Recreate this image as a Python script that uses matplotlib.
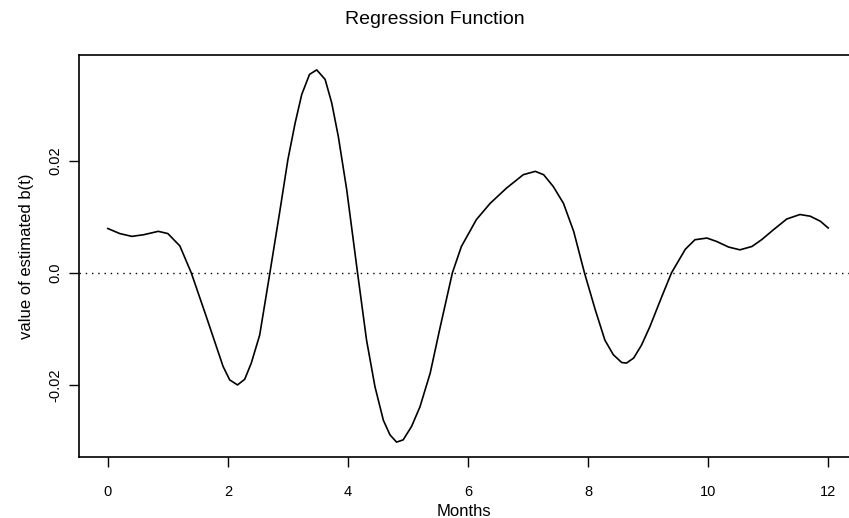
import numpy as np
import matplotlib
matplotlib.use("Agg")
import matplotlib.pyplot as plt

plt.rcParams['font.family'] = ['Liberation Sans', 'DejaVu Sans']

# estimated regression function b(t) over the months
months = [0.0, 0.2, 0.4, 0.6, 0.84, 1.0, 1.2, 1.39, 1.64, 1.92, 2.03, 2.16,
          2.28, 2.39, 2.53, 2.70, 2.87, 3.0, 3.12, 3.23, 3.36, 3.48, 3.62,
          3.73, 3.84, 3.98, 4.16, 4.31, 4.45, 4.59, 4.70, 4.81, 4.92, 5.06,
          5.20, 5.37, 5.53, 5.74, 5.89, 6.14, 6.37, 6.64, 6.92, 7.12, 7.26,
          7.42, 7.59, 7.76, 7.94, 8.12, 8.28, 8.42, 8.56, 8.64, 8.76, 8.89,
          9.03, 9.23, 9.39, 9.62, 9.78, 9.98, 10.14, 10.34, 10.53, 10.73,
          10.89, 11.09, 11.31, 11.53, 11.70, 11.87, 12.0]
b_hat = [0.0079, 0.0070, 0.0065, 0.0068, 0.0074, 0.0070, 0.0048, 0.0,
         -0.0078, -0.0167, -0.0191, -0.0200, -0.0190, -0.0161, -0.0111, 0.0,
         0.0113, 0.0202, 0.0267, 0.0318, 0.0354, 0.0362, 0.0345, 0.0303,
         0.0243, 0.0148, 0.0, -0.0120, -0.0203, -0.0263, -0.0289, -0.0302,
         -0.0298, -0.0274, -0.0239, -0.0179, -0.0100, 0.0, 0.0047, 0.0095,
         0.0124, 0.0151, 0.0175, 0.0181, 0.0175, 0.0154, 0.0124, 0.0074, 0.0,
         -0.0066, -0.0120, -0.0146, -0.0160, -0.0161, -0.0152, -0.0129,
         -0.0096, -0.0042, 0.0, 0.0042, 0.0059, 0.0062, 0.0056, 0.0046,
         0.0041, 0.0047, 0.0059, 0.0077, 0.0096, 0.0104, 0.0101, 0.0092,
         0.0080]

xticks = [0, 2, 4, 6, 8, 10, 12]
yticks = [-0.02, 0.0, 0.02]
ytick_labels = ["-0.02", "0.0", "0.02"]

fig = plt.figure(figsize=(8.49, 5.18), dpi=100)
# R-style plot region (right edge runs slightly past the image)
ax = fig.add_axes([79 / 849, 1 - 457 / 518, 778 / 849, 402 / 518])

ax.plot(months, b_hat, color='black', linewidth=1.2)
ax.axhline(0, color='black', linewidth=1.0, linestyle=(0, (1, 3.5)))

# 4% padding like R's default axis style
xr = max(months) - min(months)
yr = max(b_hat) - min(b_hat)
ax.set_xlim(min(months) - 0.04 * xr, max(months) + 0.04 * xr)
ax.set_ylim(min(b_hat) - 0.04 * yr, max(b_hat) + 0.04 * yr)

ax.set_xticks(xticks)
ax.set_xticklabels([str(t) for t in xticks])
ax.set_yticks(yticks)
ax.set_yticklabels(ytick_labels, rotation=90, va='center')
ax.tick_params(direction='out', length=7, width=1.0, labelsize=10.5,
               color='black')
ax.tick_params(axis='x', pad=13)
ax.tick_params(axis='y', pad=5)

for s in ax.spines.values():
    s.set_linewidth(1.2)

ax.set_ylabel("value of estimated b(t)", fontsize=12, labelpad=10)
fig.text(464 / 849, 1 - 516 / 518, "Months", ha='center', va='baseline',
         fontsize=12)
fig.text(435 / 849, 1 - 20 / 518, "Regression Function", ha='center',
         va='center', fontsize=14)

fig.savefig("out.png", dpi=100)
